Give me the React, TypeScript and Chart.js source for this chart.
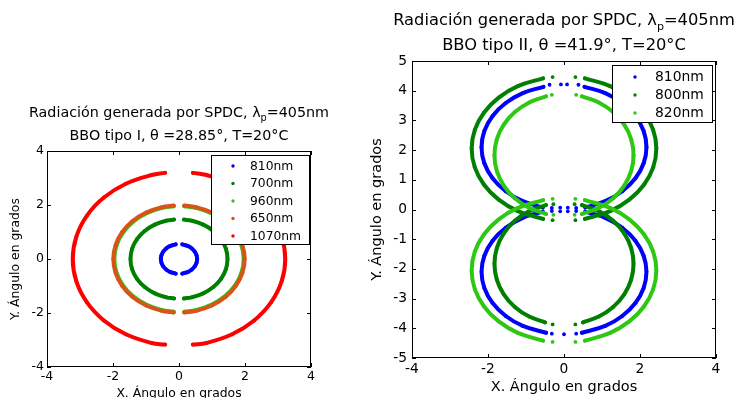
import React, { useEffect, useRef } from 'react';
import { Chart, registerables } from 'chart.js';

Chart.register(...registerables);

const FONT = '"DejaVu Sans", "Liberation Sans", sans-serif';

// ---------- text ----------
const titleMain = 'Radiación generada por SPDC, λ';
const titleSub = 'p';
const titleTail = '=405nm';
const titleLeft2 = 'BBO tipo I, θ =28.85°, T=20°C';
const titleRight2 = 'BBO tipo II, θ =41.9°, T=20°C';
const axisXTitle = 'X. Ángulo en grados';
const axisYTitle = 'Y. Ángulo en grados';

// ---------- ticks ----------
const leftXTicks = [-4, -2, 0, 2, 4];
const leftYTicks = [-4, -2, 0, 2, 4];
const rightXTicks = [-4, -2, 0, 2, 4];
const rightYTicks = [-5, -4, -3, -2, -1, 0, 1, 2, 3, 4, 5];

// ---------- left chart (BBO tipo I): arcs of [x, y] points ----------
const leftLabels = ['810nm', '700nm', '960nm', '650nm', '1070nm'];
const leftColors = ['#0000ff', '#008000', '#2ec814', '#d95319', '#ff0000'];

const ring810 = [
  [[0.10, 0.54], [0.275, 0.476], [0.389, 0.389], [0.476, 0.275], [0.531, 0.142], [0.55, 0], [0.531, -0.142], [0.476, -0.275], [0.389, -0.389], [0.275, -0.476], [0.10, -0.54]],
  [[-0.10, 0.54], [-0.275, 0.476], [-0.389, 0.389], [-0.476, 0.275], [-0.531, 0.142], [-0.55, 0], [-0.531, -0.142], [-0.476, -0.275], [-0.389, -0.389], [-0.275, -0.476], [-0.10, -0.54]],
];
const ring700 = [
  [[0.15, 1.46], [0.381, 1.42], [0.735, 1.273], [1.039, 1.039], [1.273, 0.735], [1.42, 0.381], [1.47, 0], [1.42, -0.381], [1.273, -0.735], [1.039, -1.039], [0.735, -1.273], [0.381, -1.42], [0.15, -1.46]],
  [[-0.15, 1.46], [-0.381, 1.42], [-0.735, 1.273], [-1.039, 1.039], [-1.273, 0.735], [-1.42, 0.381], [-1.47, 0], [-1.42, -0.381], [-1.273, -0.735], [-1.039, -1.039], [-0.735, -1.273], [-0.381, -1.42], [-0.15, -1.46]],
];
const ring960 = [
  [[0.16, 1.95], [0.507, 1.893], [0.98, 1.697], [1.386, 1.386], [1.697, 0.98], [1.893, 0.507], [1.96, 0], [1.893, -0.507], [1.697, -0.98], [1.386, -1.386], [0.98, -1.697], [0.507, -1.893], [0.16, -1.95]],
  [[-0.16, 1.95], [-0.507, 1.893], [-0.98, 1.697], [-1.386, 1.386], [-1.697, 0.98], [-1.893, 0.507], [-1.96, 0], [-1.893, -0.507], [-1.697, -0.98], [-1.386, -1.386], [-0.98, -1.697], [-0.507, -1.893], [-0.16, -1.95]],
];
const ring650 = [
  [[0.16, 1.98], [0.515, 1.922], [0.995, 1.723], [1.407, 1.407], [1.723, 0.995], [1.922, 0.515], [1.99, 0], [1.922, -0.515], [1.723, -0.995], [1.407, -1.407], [0.995, -1.723], [0.515, -1.922], [0.16, -1.98]],
  [[-0.16, 1.98], [-0.515, 1.922], [-0.995, 1.723], [-1.407, 1.407], [-1.723, 0.995], [-1.922, 0.515], [-1.99, 0], [-1.922, -0.515], [-1.723, -0.995], [-1.407, -1.407], [-0.995, -1.723], [-0.515, -1.922], [-0.16, -1.98]],
];
const ring1070 = [
  [[0.42, 3.19], [0.833, 3.11], [1.61, 2.789], [2.277, 2.277], [2.789, 1.61], [3.11, 0.833], [3.22, 0], [3.11, -0.833], [2.789, -1.61], [2.277, -2.277], [1.61, -2.789], [0.833, -3.11], [0.42, -3.17]],
  [[-0.42, 3.19], [-0.833, 3.11], [-1.61, 2.789], [-2.277, 2.277], [-2.789, 1.61], [-3.11, 0.833], [-3.22, 0], [-3.11, -0.833], [-2.789, -1.61], [-2.277, -2.277], [-1.61, -2.789], [-0.833, -3.11], [-0.42, -3.17]],
];
const leftSeries = [ring810, ring700, ring960, ring650, ring1070];

// ---------- right chart (BBO tipo II) ----------
const rightLabels = ['810nm', '800nm', '820nm'];
const rightColors = ['#0000ff', '#008000', '#2ec814'];

const rings810II = [
  // upper ring
  [[0.54, 4.13], [1.085, 3.919], [1.534, 3.585], [1.879, 3.15], [2.096, 2.644], [2.17, 2.1], [2.096, 1.556], [1.879, 1.05], [1.534, 0.615], [1.085, 0.281], [0.56, 0.07]],
  [[-0.54, 4.13], [-1.085, 3.919], [-1.534, 3.585], [-1.879, 3.15], [-2.096, 2.644], [-2.17, 2.1], [-2.096, 1.556], [-1.879, 1.05], [-1.534, 0.615], [-1.085, 0.281], [-0.56, 0.07]],
  // lower ring
  [[0.56, -0.07], [1.085, -0.281], [1.534, -0.615], [1.879, -1.05], [2.096, -1.556], [2.17, -2.1], [2.096, -2.644], [1.879, -3.15], [1.534, -3.585], [1.085, -3.919], [0.47, -4.15]],
  [[-0.56, -0.07], [-1.085, -0.281], [-1.534, -0.615], [-1.879, -1.05], [-2.096, -1.556], [-2.17, -2.1], [-2.096, -2.644], [-1.879, -3.15], [-1.534, -3.585], [-1.085, -3.919], [-0.47, -4.15]],
  // isolated dots
  [[0.38, 4.2]], [[-0.38, 4.2]], [[0.08, 4.21]], [[-0.08, 4.21]],
  [[0.32, 0.05]], [[-0.32, 0.05]], [[0.1, 0.06]], [[-0.1, 0.06]],
  [[0.32, -0.05]], [[-0.32, -0.05]], [[0.1, -0.06]], [[-0.1, -0.06]],
  [[0.32, -4.18]], [[-0.32, -4.18]], [[0.0, -4.2]],
];
const rings800II = [
  // upper ring (outer)
  [[0.55, 4.417], [1.215, 4.154], [1.718, 3.768], [2.104, 3.265], [2.347, 2.679], [2.43, 2.05], [2.347, 1.421], [2.104, 0.835], [1.718, 0.332], [1.215, -0.054], [0.55, -0.317]],
  [[-0.55, 4.417], [-1.215, 4.154], [-1.718, 3.768], [-2.104, 3.265], [-2.347, 2.679], [-2.43, 2.05], [-2.347, 1.421], [-2.104, 0.835], [-1.718, 0.332], [-1.215, -0.054], [-0.55, -0.317]],
  // lower ring (inner)
  [[0.474, 0.15], [0.915, -0.055], [1.294, -0.38], [1.585, -0.805], [1.768, -1.299], [1.83, -1.83], [1.768, -2.361], [1.585, -2.855], [1.294, -3.28], [0.915, -3.605], [0.5, -3.8]],
  [[-0.474, 0.15], [-0.915, -0.055], [-1.294, -0.38], [-1.585, -0.805], [-1.768, -1.299], [-1.83, -1.83], [-1.768, -2.361], [-1.585, -2.855], [-1.294, -3.28], [-0.915, -3.605], [-0.5, -3.8]],
  // isolated dots
  [[0.3, 4.46]], [[-0.3, 4.46]], [[0.3, -0.36]], [[-0.3, -0.36]],
  [[0.28, 0.18]], [[-0.28, 0.18]], [[0.3, -3.87]], [[-0.3, -3.87]],
];
const rings820II = [
  // upper ring (inner)
  [[0.474, 3.81], [0.915, 3.605], [1.294, 3.28], [1.585, 2.855], [1.768, 2.361], [1.83, 1.83], [1.768, 1.299], [1.585, 0.805], [1.294, 0.38], [0.915, 0.055], [0.474, -0.15]],
  [[-0.474, 3.81], [-0.915, 3.605], [-1.294, 3.28], [-1.585, 2.855], [-1.768, 2.361], [-1.83, 1.83], [-1.768, 1.299], [-1.585, 0.805], [-1.294, 0.38], [-0.915, 0.055], [-0.474, -0.15]],
  // lower ring (outer)
  [[0.55, 0.317], [1.215, 0.054], [1.718, -0.332], [2.104, -0.835], [2.347, -1.421], [2.43, -2.05], [2.347, -2.679], [2.104, -3.265], [1.718, -3.768], [1.215, -4.154], [0.55, -4.417]],
  [[-0.55, 0.317], [-1.215, 0.054], [-1.718, -0.332], [-2.104, -0.835], [-2.347, -1.421], [-2.43, -2.05], [-2.347, -2.679], [-2.104, -3.265], [-1.718, -3.768], [-1.215, -4.154], [-0.55, -4.417]],
  // isolated dots
  [[0.32, 3.86]], [[-0.32, 3.86]], [[0.28, -0.18]], [[-0.28, -0.18]],
  [[0.3, 0.36]], [[-0.3, 0.36]], [[0.3, -4.46]], [[-0.3, -4.46]],
];
const rightSeries = [rings810II, rings800II, rings820II];

// ---------- helpers ----------
type Pt = { x: number | null; y: number | null };
function toData(segments: number[][][]): Pt[] {
  const out: Pt[] = [];
  segments.forEach((seg, i) => {
    if (i > 0) out.push({ x: null, y: null });
    seg.forEach(([x, y]) => out.push({ x, y }));
  });
  return out;
}

interface Cfg {
  left: number;
  w: number;
  h: number;
  pad: { left: number; right: number; top: number; bottom: number };
  yWidth: number;
  xHeight: number;
  xMin: number; xMax: number; yMin: number; yMax: number;
  xTicks: number[]; yTicks: number[];
  tickSize: number; labelSize: number; titleSize: number; legendSize: number;
  xTickPad: number; yTickPad: number; xTitlePadBottom: number; yTitlePadTop: number;
  title2: string;
  title1Off: number; title2Off: number;
  labels: string[]; colors: string[]; series: number[][][][];
  legend: { rightOff: number; w: number; h: number; topOff: number; first: number; step: number; mx: number; tx: number };
}

function makePlugin(cfg: Cfg) {
  return {
    id: 'matlabDecor',
    afterDraw(chart: any) {
      const { ctx, chartArea: a, scales } = chart;
      ctx.save();
      // frame
      ctx.strokeStyle = '#000';
      ctx.lineWidth = 1;
      ctx.strokeRect(Math.round(a.left) + 0.5, Math.round(a.top) + 0.5, Math.round(a.right - a.left) - 1, Math.round(a.bottom - a.top) - 1);
      // inward ticks on all sides
      const L = 4;
      ctx.beginPath();
      scales.x.ticks.forEach((t: any) => {
        const p = Math.round(scales.x.getPixelForValue(t.value)) + 0.5;
        ctx.moveTo(p, a.bottom); ctx.lineTo(p, a.bottom - L);
        ctx.moveTo(p, a.top); ctx.lineTo(p, a.top + L);
      });
      scales.y.ticks.forEach((t: any) => {
        const p = Math.round(scales.y.getPixelForValue(t.value)) + 0.5;
        ctx.moveTo(a.left, p); ctx.lineTo(a.left + L, p);
        ctx.moveTo(a.right, p); ctx.lineTo(a.right - L, p);
      });
      ctx.stroke();

      // title
      const cx = (a.left + a.right) / 2;
      const ts = cfg.titleSize;
      const mainFont = `${ts}px ${FONT}`;
      const subFont = `${ts * 0.68}px ${FONT}`;
      ctx.fillStyle = '#000';
      ctx.textBaseline = 'alphabetic';
      ctx.textAlign = 'left';
      ctx.font = mainFont;
      const wA = ctx.measureText(titleMain).width;
      const wB = ctx.measureText(titleTail).width;
      ctx.font = subFont;
      const wS = ctx.measureText(titleSub).width;
      let x = cx - (wA + wS + wB) / 2;
      const y1 = a.top - cfg.title1Off;
      ctx.font = mainFont;
      ctx.fillText(titleMain, x, y1);
      x += wA;
      ctx.font = subFont;
      ctx.fillText(titleSub, x, y1 + ts * 0.3);
      x += wS;
      ctx.font = mainFont;
      ctx.fillText(titleTail, x, y1);
      ctx.textAlign = 'center';
      ctx.fillText(cfg.title2, cx, a.top - cfg.title2Off);

      // legend
      const lg = cfg.legend;
      const lx = Math.round(a.right - lg.rightOff);
      const ly = Math.round(a.top + lg.topOff);
      ctx.fillStyle = '#fff';
      ctx.fillRect(lx, ly, lg.w, lg.h);
      ctx.strokeStyle = '#000';
      ctx.strokeRect(lx + 0.5, ly + 0.5, lg.w, lg.h);
      ctx.textAlign = 'left';
      ctx.textBaseline = 'middle';
      ctx.font = `${cfg.legendSize}px ${FONT}`;
      cfg.labels.forEach((lab, i) => {
        const yy = ly + lg.first + i * lg.step;
        ctx.fillStyle = cfg.colors[i];
        ctx.beginPath();
        ctx.arc(lx + lg.mx, yy, 1.7, 0, Math.PI * 2);
        ctx.fill();
        ctx.fillStyle = '#000';
        ctx.fillText(lab, lx + lg.tx, yy + 0.5);
      });
      ctx.restore();
    },
  };
}

function buildConfig(cfg: Cfg): any {
  const datasets = cfg.series.map((segs, i) => ({
    label: cfg.labels[i],
    data: toData(segs),
    showLine: true,
    spanGaps: false,
    borderColor: cfg.colors[i],
    backgroundColor: cfg.colors[i],
    pointBackgroundColor: cfg.colors[i],
    pointBorderWidth: 0,
    pointRadius: 1.9,
    borderWidth: 4,
    tension: 0.4,
    borderCapStyle: 'round',
    borderJoinStyle: 'round',
  })).reverse(); // index 0 is drawn on top: last-plotted series on top

  const tickFont = { family: FONT, size: cfg.tickSize };
  const labelFont = { family: FONT, size: cfg.labelSize };
  return {
    type: 'scatter',
    data: { datasets },
    plugins: [makePlugin(cfg)],
    options: {
      responsive: false,
      maintainAspectRatio: false,
      animation: false,
      events: [],
      layout: { padding: cfg.pad },
      plugins: { legend: { display: false }, title: { display: false }, tooltip: { enabled: false } },
      scales: {
        x: {
          type: 'linear', min: cfg.xMin, max: cfg.xMax,
          afterBuildTicks: (s: any) => { s.ticks = cfg.xTicks.map((v) => ({ value: v })); },
          afterFit: (s: any) => { s.height = cfg.xHeight; },
          grid: { display: false, drawTicks: false },
          border: { display: false },
          ticks: { color: '#000', font: tickFont, padding: cfg.xTickPad, maxRotation: 0, autoSkip: false },
          title: { display: true, text: axisXTitle, color: '#000', font: labelFont, padding: { top: 0, bottom: cfg.xTitlePadBottom } },
        },
        y: {
          type: 'linear', min: cfg.yMin, max: cfg.yMax,
          afterBuildTicks: (s: any) => { s.ticks = cfg.yTicks.map((v) => ({ value: v })); },
          afterFit: (s: any) => { s.width = cfg.yWidth; },
          grid: { display: false, drawTicks: false },
          border: { display: false },
          ticks: { color: '#000', font: tickFont, padding: cfg.yTickPad, autoSkip: false },
          title: { display: true, text: axisYTitle, color: '#000', font: labelFont, padding: { top: cfg.yTitlePadTop, bottom: 0 } },
        },
      },
    },
  };
}

const leftCfg: Cfg = {
  left: 0, w: 360, h: 398,
  pad: { left: 0, right: 49, top: 151, bottom: 0 },
  yWidth: 47, xHeight: 31,
  xMin: -4, xMax: 4, yMin: -4, yMax: 4,
  xTicks: leftXTicks, yTicks: leftYTicks,
  tickSize: 12.5, labelSize: 12.4, titleSize: 14.3, legendSize: 12.3,
  xTickPad: 2.5, yTickPad: 3, xTitlePadBottom: -3, yTitlePadTop: 8.5,
  title2: titleLeft2, title1Off: 34.5, title2Off: 11,
  labels: leftLabels, colors: leftColors, series: leftSeries,
  legend: { rightOff: 100, w: 98, h: 89, topOff: 4, first: 11, step: 17.5, mx: 22, tx: 39 },
};

const rightCfg: Cfg = {
  left: 360, w: 378, h: 398,
  pad: { left: 0, right: 22, top: 61, bottom: 0 },
  yWidth: 52, xHeight: 40,
  xMin: -4, xMax: 4, yMin: -5, yMax: 5,
  xTicks: rightXTicks, yTicks: rightYTicks,
  tickSize: 13.8, labelSize: 14.5, titleSize: 16.3, legendSize: 13.9,
  xTickPad: 3, yTickPad: 5, xTitlePadBottom: 2, yTitlePadTop: 9,
  title2: titleRight2, title1Off: 36, title2Off: 11,
  labels: rightLabels, colors: rightColors, series: rightSeries,
  legend: { rightOff: 104, w: 100, h: 57, topOff: 4, first: 12, step: 18, mx: 23, tx: 43 },
};

function RingChart({ cfg }: { cfg: Cfg }) {
  const ref = useRef<HTMLCanvasElement>(null);
  useEffect(() => {
    if (!ref.current) return;
    const chart = new Chart(ref.current, buildConfig(cfg));
    return () => chart.destroy();
  }, [cfg]);
  return (
    <canvas
      ref={ref}
      width={cfg.w}
      height={cfg.h}
      style={{ position: 'absolute', left: cfg.left, top: 0, width: cfg.w, height: cfg.h }}
    />
  );
}

export default function App() {
  return (
    <div style={{ position: 'fixed', left: 0, top: 0, width: 738, height: 398, background: '#fff', overflow: 'hidden' }}>
      <RingChart cfg={leftCfg} />
      <RingChart cfg={rightCfg} />
    </div>
  );
}
